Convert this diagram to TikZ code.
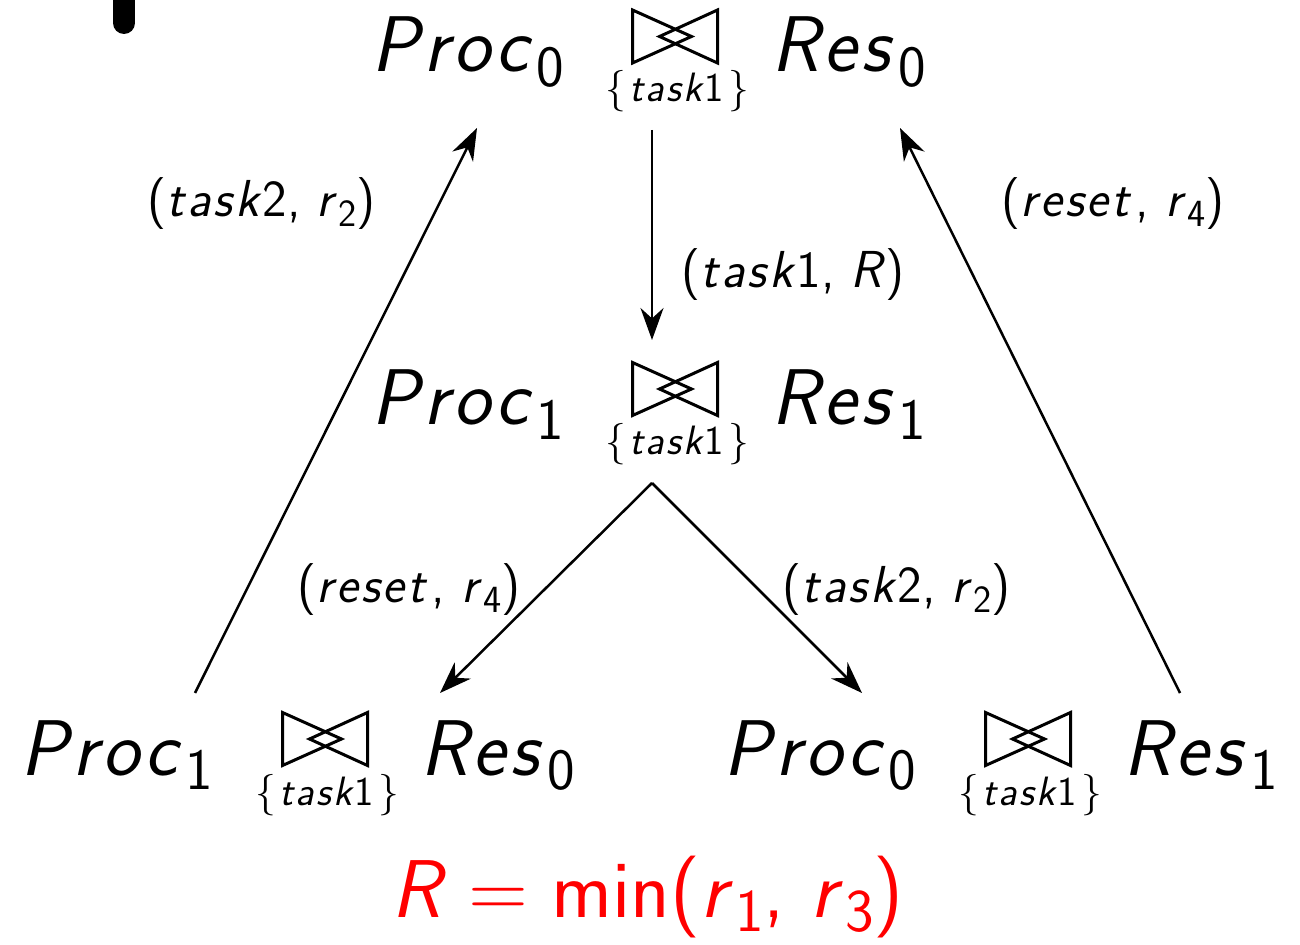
\documentclass[tikz,border=0pt]{standalone}
\usepackage{amsmath}
\renewcommand\familydefault{\sfdefault}
\usetikzlibrary{arrows.meta}
\makeatletter
\newcommand\sbs[1]{\kern0.04em\raisebox{-0.18em}{\fontsize{\the\dimexpr 0.74\dimexpr\f@size pt\relax\relax}{0pt}\selectfont #1}}
\def\lsp{0.06em}
\def\vv#1{\textsl{\vv@loop#1\@nil}}
\def\vv@loop#1{\ifx#1\@nil\else#1\kern\lsp\expandafter\vv@loop\fi}
\makeatother
\newcommand\tsk{$\{$\hspace{0.08em}\vv{task}1\hspace{0.1em}$\}$}
\tikzset{
  bowtie/.pic={
    \draw[joinline] (-43,-26.5) -- (-43,26.5) -- (16,0) -- cycle;
    \draw[joinline] (42,-26.5) -- (42,26.5) -- (-16,0) -- cycle;
  }
}
\begin{document}
\begin{tikzpicture}[x=0.5pt,y=-0.5pt,
  big/.style={inner sep=0pt, anchor=base west, font=\fontsize{39.5}{47}\selectfont},
  lbl/.style={inner sep=0pt, anchor=base west, font=\fontsize{26}{31}\selectfont},
  subl/.style={inner sep=0pt, anchor=base, font=\fontsize{20.5}{24}\selectfont},
  eqn/.style={inner sep=0pt, anchor=base west, text=red, font=\fontsize{41}{49}\selectfont},
  arr/.style={-{Stealth[length=16pt,width=11.5pt]}, line width=1.25pt},
  joinline/.style={line width=1.5pt, line join=miter}
]
\useasboundingbox (0,0) rectangle (1300,945);

% partial black bar at top left
\draw[line width=11pt, line cap=round] (124,-40) -- (124,23);

% Row 1
\node[big] (p0) at (371,72) {\vv{Proc}\sbs{0}};
\pic (j0) at (675.5,36.5) {bowtie};
\node[subl] (t0) at (677,102) {\tsk};
\node[big] (r0) at (771,72) {\vv{Res}\sbs{0}};

% Row 2
\node[big] (p1) at (371,425) {\vv{Proc}\sbs{1}};
\pic (j1) at (675.5,389) {bowtie};
\node[subl] (t1) at (677,455) {\tsk};
\node[big] (r1) at (771,425) {\vv{Res}\sbs{1}};

% Row 3 left
\node[big] (p2) at (20,775) {\vv{Proc}\sbs{1}};
\pic (j2) at (325.5,739) {bowtie};
\node[subl] (t2) at (327,805) {\tsk};
\node[big] (r2) at (420,775) {\vv{Res}\sbs{0}};

% Row 3 right
\node[big] (p3) at (723,775) {\vv{Proc}\sbs{0}};
\pic (j3) at (1028.5,739) {bowtie};
\node[subl] (t3) at (1030,805) {\tsk};
\node[big] (r3) at (1123,775) {\vv{Res}\sbs{1}};

% arrow end points
\coordinate (a1s) at (652,130);
\coordinate (a1e) at (652,340);
\coordinate (a2s) at (652,483);
\coordinate (a2e) at (440,693);
\coordinate (a3e) at (862,693);
\coordinate (a4s) at (195,693);
\coordinate (a4e) at (477,128);
\coordinate (a5s) at (1180,693);
\coordinate (a5e) at (900,128);

\draw[arr] (a1s) -- (a1e);
\draw[arr] (a2s) -- (a2e);
\draw[arr] (a2s) -- (a3e);
\draw[arr] (a4s) -- (a4e);
\draw[arr] (a5s) -- (a5e);

% labels
\node[lbl] (l1) at (147,217) {(\vv{task}2, \vv{r}\sbs{2})};
\node[lbl] (l2) at (681,288) {(\vv{task}1, \vv{R})};
\node[lbl] (l3) at (1001,217) {(\vv{reset}\kern0.06em, \vv{r}\sbs{4})};
\node[lbl] (l4) at (297,603) {(\vv{reset}\kern0.06em, \vv{r}\sbs{4})};
\node[lbl] (l5) at (782,603) {(\vv{task}2, \vv{r}\sbs{2})};

\node[eqn] (eq) at (391,917) {\vv{R}\;=\;min(\vv{r}\sbs{1}, \vv{r}\sbs{3})};
\end{tikzpicture}
\end{document}
